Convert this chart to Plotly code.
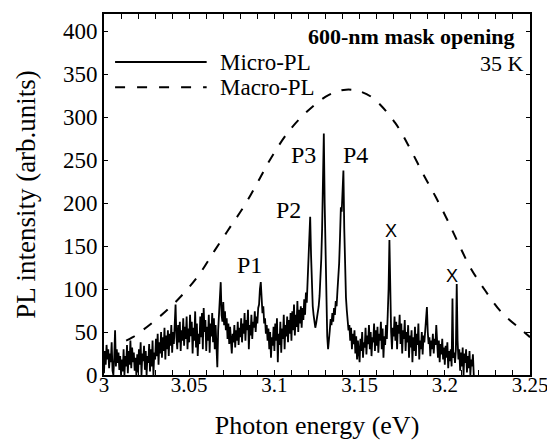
import numpy as np
import plotly.graph_objects as go

# ---------------- data ----------------
# Micro-PL spectrum, sampled every 0.5 meV starting at 3.000 eV (10-meV blocks)
micro_start_ev = 3.000
micro_step_ev = 0.0005
b3000 = [2, 28, 12, 35, 18, 30, 8, 25, 15, 38, 5, 0, 20, 52, 10, 30, 14, 26, 6, 22]
b3010 = [0, 18, 4, 30, 0, 22, 10, 35, 2, 28, 12, 40, 8, 32, 15, 26, 5, 20, 0, 24]
b3020 = [3, 30, 12, 38, 0, 25, 16, 34, 6, 28, 0, 22, 14, 36, 4, 30, 10, 40, 0, 26]
b3030 = [18, 42, 22, 48, 12, 38, 25, 50, 20, 44, 28, 55, 18, 46, 30, 52, 22, 48, 34, 58]
b3040 = [26, 50, 36, 64, 82, 44, 30, 58, 38, 62, 28, 52, 40, 66, 34, 56, 42, 68, 30, 54]
b3050 = [38, 70, 45, 62, 25, 55, 40, 74, 32, 60, 22, 48, 36, 68, 44, 72, 30, 78, 50, 64]
b3060 = [28, 56, 40, 70, 26, 60, 45, 72, 38, 66, 30, 58, 18, 9, 52, 74, 80, 108, 70, 62]
b3070 = [85, 58, 74, 52, 66, 42, 60, 36, 56, 30, 25, 48, 38, 58, 32, 52, 40, 62, 35, 55]
b3080 = [44, 66, 38, 60, 48, 72, 40, 64, 52, 76, 30, 58, 46, 70, 42, 62, 55, 74, 50, 68]
b3090 = [60, 78, 82, 100, 108, 90, 72, 80, 60, 66, 48, 58, 40, 54, 30, 50, 20, 44, 34, 56]
b3100 = [28, 60, 40, 66, 15, 48, 35, 62, 26, 54, 42, 70, 30, 58, 45, 68, 38, 64, 48, 72]
b3110 = [40, 74, 52, 82, 46, 70, 56, 86, 50, 76, 60, 80, 55, 78, 64, 88, 70, 96, 84, 110]
b3120 = [130, 160, 184, 140, 100, 80, 70, 58, 55, 60, 66, 70, 80, 92, 110, 135, 170, 230, 281, 200]
b3130 = [130, 70, 45, 30, 38, 52, 65, 58, 72, 62, 78, 70, 86, 80, 98, 110, 130, 160, 195, 190]
b3140 = [210, 238, 170, 120, 90, 75, 62, 52, 58, 40, 55, 30, 48, 36, 52, 25, 45, 18, 40, 28]
b3150 = [15, 42, 28, 50, 20, 38, 32, 55, 24, 46, 36, 58, 30, 50, 22, 44, 38, 60, 28, 52]
b3160 = [34, 56, 26, 48, 40, 62, 30, 54, 20, 45, 35, 58, 42, 70, 100, 157, 90, 50, 30, 55]
b3170 = [45, 68, 40, 62, 30, 58, 48, 70, 36, 60, 25, 52, 42, 64, 28, 50, 38, 58, 20, 46]
b3180 = [32, 52, 15, 44, 28, 56, 22, 48, 35, 60, 18, 40, 30, 50, 24, 46, 38, 56, 60, 79]
b3190 = [50, 36, 44, 22, 40, 30, 48, 25, 42, 35, 58, 30, 20, 40, 15, 36, 24, 42, 18, 32]
b3200 = [12, 34, 20, 38, 8, 28, 16, 30, 10, 89, 20, 26, 14, 30, 106, 40, 18, 30, 5, 26]
b3210 = [10, 32, 0, 25, 14, 30, 3, 22, 8, 28, 0, 18, 10, 24, 0]

micro_pl = (b3000 + b3010 + b3020 + b3030 + b3040 + b3050 + b3060 + b3070 +
            b3080 + b3090 + b3100 + b3110 + b3120 + b3130 + b3140 + b3150 +
            b3160 + b3170 + b3180 + b3190 + b3200 + b3210)
micro_ev = np.round(micro_start_ev + micro_step_ev * np.arange(len(micro_pl)), 4)

# Macro-PL (dashed envelope)
macro_ev = [3.013, 3.0169, 3.0315, 3.043, 3.0548, 3.065, 3.074, 3.0827, 3.0915,
            3.0985, 3.109, 3.120, 3.132, 3.142, 3.150, 3.158, 3.171, 3.180, 3.187,
            3.1947, 3.2016, 3.208, 3.215, 3.2238, 3.2337, 3.2453, 3.25]
macro_pl = [40, 44, 66, 87, 114, 145, 172, 198, 229, 254, 285, 308, 326, 332, 330,
            322, 293, 262, 235, 207, 180, 153, 125, 98, 72, 52, 44]

# peak labels
peak_labels = ["P1", "P2", "P3", "P4"]
peak_label_ev = [3.0851, 3.1084, 3.1171, 3.1474]
peak_label_y = [128, 192, 256, 256]
cross_label_ev = [3.1684, 3.2045]
cross_label_y = [167, 115]

x_tickvals = [3.0, 3.05, 3.1, 3.15, 3.2, 3.25]
x_ticktext = ["3", "3.05", "3.1", "3.15", "3.2", "3.25"]
y_tickvals = [0, 50, 100, 150, 200, 250, 300, 350, 400]

# ---------------- figure ----------------
SERIF = "Liberation Serif, Times New Roman, serif"
fig = go.Figure()

fig.add_trace(go.Scatter(x=micro_ev, y=micro_pl, mode="lines", name="Micro-PL",
                         line=dict(color="black", width=1.8), showlegend=False))
fig.add_trace(go.Scatter(x=macro_ev, y=macro_pl, mode="lines", name="Macro-PL",
                         line=dict(color="black", width=2, dash="10px,11px", shape="spline"),
                         showlegend=False))

for t, xv, yv in zip(peak_labels, peak_label_ev, peak_label_y):
    fig.add_annotation(x=xv, y=yv, text=t, showarrow=False,
                       font=dict(family=SERIF, size=24, color="black"))
for xv, yv in zip(cross_label_ev, cross_label_y):
    fig.add_annotation(x=xv, y=yv, text="X", showarrow=False,
                       font=dict(family="Liberation Sans, Arial, sans-serif", size=18, color="black"))

# in-plot texts
fig.add_annotation(xref="paper", yref="paper", x=0.97, y=0.939, text="<b>600-nm mask opening</b>",
                   xanchor="right", yanchor="middle", showarrow=False,
                   font=dict(family=SERIF, size=22, color="black"))
fig.add_annotation(xref="paper", yref="paper", x=0.99, y=0.864, text="35 K",
                   xanchor="right", yanchor="middle", showarrow=False,
                   font=dict(family=SERIF, size=22, color="black"))

# legend (drawn by hand to get long samples)
fig.add_shape(type="line", xref="paper", yref="paper", x0=0.026, x1=0.241, y0=0.867, y1=0.867,
              line=dict(color="black", width=2))
fig.add_shape(type="line", xref="paper", yref="paper", x0=0.026, x1=0.241, y0=0.797, y1=0.797,
              line=dict(color="black", width=2, dash="10px,12px"))
fig.add_annotation(xref="paper", yref="paper", x=0.267, y=0.867, text="Micro-PL",
                   xanchor="left", yanchor="middle", showarrow=False,
                   font=dict(family=SERIF, size=23, color="black"))
fig.add_annotation(xref="paper", yref="paper", x=0.267, y=0.797, text="Macro-PL",
                   xanchor="left", yanchor="middle", showarrow=False,
                   font=dict(family=SERIF, size=23, color="black"))

# page body has an 8px margin, so the figure is sized to fit the 555x445 window
fig.update_layout(
    width=547, height=437,
    margin=dict(l=96, r=25, t=6, b=70),
    paper_bgcolor="white", plot_bgcolor="white",
    font=dict(family=SERIF, color="black"),
)
fig.update_xaxes(
    range=[3.0, 3.25], tickvals=x_tickvals, ticktext=x_ticktext, automargin=False,
    showline=True, linecolor="black", linewidth=2, mirror="ticks",
    ticks="inside", ticklen=5, tickcolor="black", showgrid=False, zeroline=False,
    minor=dict(dtick=0.01, ticks="inside", ticklen=5, tickcolor="black", showgrid=False),
    tickfont=dict(family=SERIF, size=21), ticklabelstandoff=-10,
    title=dict(text="Photon energy (eV)", font=dict(family=SERIF, size=26), standoff=20),
)
fig.update_yaxes(
    range=[0, 420], tickvals=y_tickvals, automargin=False,
    showline=True, linecolor="black", linewidth=2, mirror="ticks",
    ticks="inside", ticklen=4, tickcolor="black", showgrid=False, zeroline=False,
    tickfont=dict(family=SERIF, size=23),
    title=dict(text="PL intensity (arb.units)", font=dict(family=SERIF, size=27), standoff=19),
)

fig.write_html("out.html")
